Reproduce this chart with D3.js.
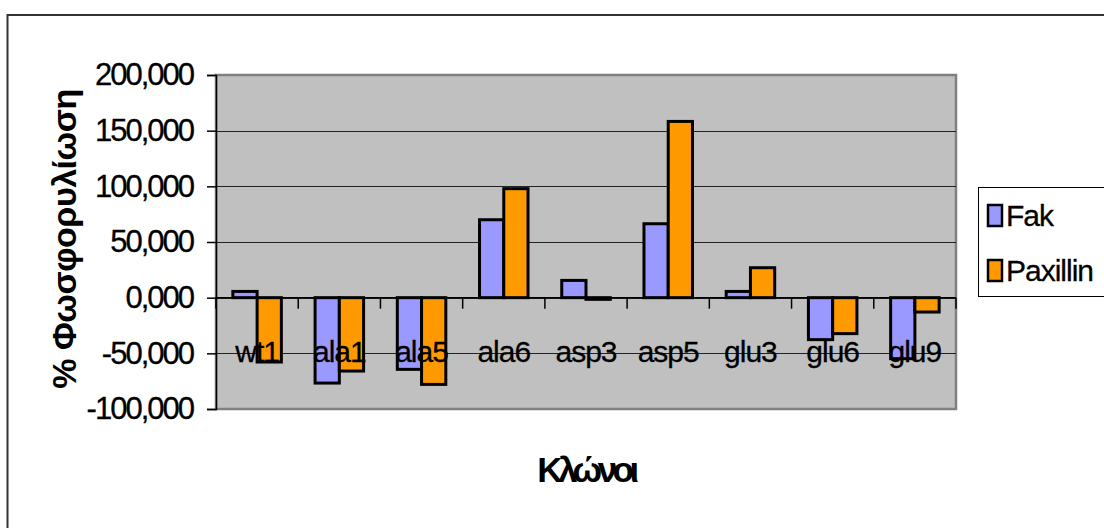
<!DOCTYPE html>
<html><head><meta charset="utf-8">
<script src="https://cdn.jsdelivr.net/npm/d3@7"></script>
<style>
html,body{margin:0;padding:0;background:#fff;}
svg{display:block;font-family:"Liberation Sans",Arial,sans-serif;}
</style></head>
<body>
<svg id="c" width="1104" height="528"></svg>
<script>
const categories = ["wt1","ala1","ala5","ala6","asp3","asp5","glu3","glu6","glu9"];
const seriesNames = ["Fak","Paxillin"];
const fakValues = [5.6,-76.7,-64.4,70.0,15.5,66.4,5.6,-37.7,-54.8];
const paxillinValues = [-57.8,-65.9,-77.9,97.9,-1.5,158.3,26.9,-32.3,-12.9];
const yTicks = [-100,-50,0,50,100,150,200];
const seriesColors = ["#9999ff","#ff9900"];

const svg = d3.select("#c");
const L = 216, R = 956, T = 75, B = 409;

// outer chart border
svg.append("rect").attr("x",7.5).attr("y",15).attr("width",1110).attr("height",530)
  .attr("fill","#fff").attr("stroke","#333").attr("stroke-width",2);

const x = d3.scaleBand().domain(categories).range([L,R]).paddingInner(0.41).paddingOuter(0.205);
const xs = d3.scaleBand().domain(seriesNames).range([0,x.bandwidth()]);
const y = d3.scaleLinear().domain([-100,200]).range([B,T]);

// plot area
svg.append("rect").attr("x",L).attr("y",T).attr("width",R-L).attr("height",B-T)
  .attr("fill","#c0c0c0").attr("stroke","#808080").attr("stroke-width",2.5);

// gridlines
svg.append("g").selectAll("line").data(yTicks.filter(d=>d!==-100 && d!==200)).join("line")
  .attr("x1",L).attr("x2",R).attr("y1",d=>Math.round(y(d))+0.5).attr("y2",d=>Math.round(y(d))+0.5)
  .attr("stroke","#222").attr("stroke-width",1);

// y axis
const yAxis = d3.axisLeft(y).tickValues(yTicks).tickSize(9).tickPadding(14).tickFormat(d=>{
  const s = d3.format(".3f")(Math.abs(d)).replace(".",",");
  return (d<0?"-":"") + s;
});
const gy = svg.append("g").attr("transform",`translate(${L},0)`).call(yAxis);
gy.select(".domain").attr("stroke","#000").attr("stroke-width",1.5);
gy.selectAll(".tick line").attr("stroke","#000").attr("stroke-width",1.5);
gy.selectAll(".tick text").attr("font-size",31).attr("fill","#000").attr("letter-spacing","-2px")
  .attr("stroke","#000").attr("stroke-width",0.3)
  .attr("font-family","'Liberation Sans',Arial,sans-serif");

// bars
const data = categories.map((c,i)=>({c, vals:[fakValues[i], paxillinValues[i]]}));
const gb = svg.append("g");
data.forEach(d=>{
  d.vals.forEach((v,j)=>{
    gb.append("rect")
      .attr("x", x(d.c)+xs(seriesNames[j]))
      .attr("y", y(Math.max(0,v)))
      .attr("width", xs.bandwidth())
      .attr("height", Math.abs(y(v)-y(0)))
      .attr("fill", seriesColors[j]).attr("stroke","#000").attr("stroke-width",3);
  });
});

// x axis line at zero with ticks
const y0 = y(0);
svg.append("line").attr("x1",L).attr("x2",R).attr("y1",y0).attr("y2",y0).attr("stroke","#000").attr("stroke-width",1.5);
const bounds = d3.range(categories.length+1).map(i=> L + i*(R-L)/categories.length);
svg.append("g").selectAll("line").data(bounds).join("line")
  .attr("x1",d=>d).attr("x2",d=>d).attr("y1",y0).attr("y2",y0+11)
  .attr("stroke","#000").attr("stroke-width",1.5);

// category labels
svg.append("g").selectAll("text").data(categories).join("text")
  .attr("x",d=>x(d)+x.bandwidth()/2).attr("y",362).attr("text-anchor","middle")
  .attr("font-size",30).attr("letter-spacing","-1px").attr("fill","#000")
  .attr("stroke","#000").attr("stroke-width",0.3).text(d=>d);

// axis titles
svg.append("text").attr("transform","translate(76,239) rotate(-90)").attr("text-anchor","middle")
  .attr("font-size",34).attr("font-weight","bold").attr("letter-spacing","-0.5px").attr("fill","#000").text("% Φωσφορυλίωση");
svg.append("text").attr("x",586).attr("y",482).attr("text-anchor","middle")
  .attr("font-size",35).attr("font-weight","bold").attr("letter-spacing","-4.5px").attr("fill","#000").text("Κλώνοι");

// legend
const lg = svg.append("g");
lg.append("rect").attr("x",978.5).attr("y",187.5).attr("width",140).attr("height",109)
  .attr("fill","#fff").attr("stroke","#000").attr("stroke-width",1);
seriesNames.forEach((n,i)=>{
  const cy = 215 + i*55;
  lg.append("rect").attr("x",988).attr("y",cy-10).attr("width",14).attr("height",21)
    .attr("fill",seriesColors[i]).attr("stroke","#000").attr("stroke-width",2.5);
  lg.append("text").attr("x",1006).attr("y",cy+11).attr("font-size",30).attr("letter-spacing","-1px")
    .attr("stroke","#000").attr("stroke-width",0.3)
    .attr("fill","#000").text(n);
});
</script>
</body></html>
